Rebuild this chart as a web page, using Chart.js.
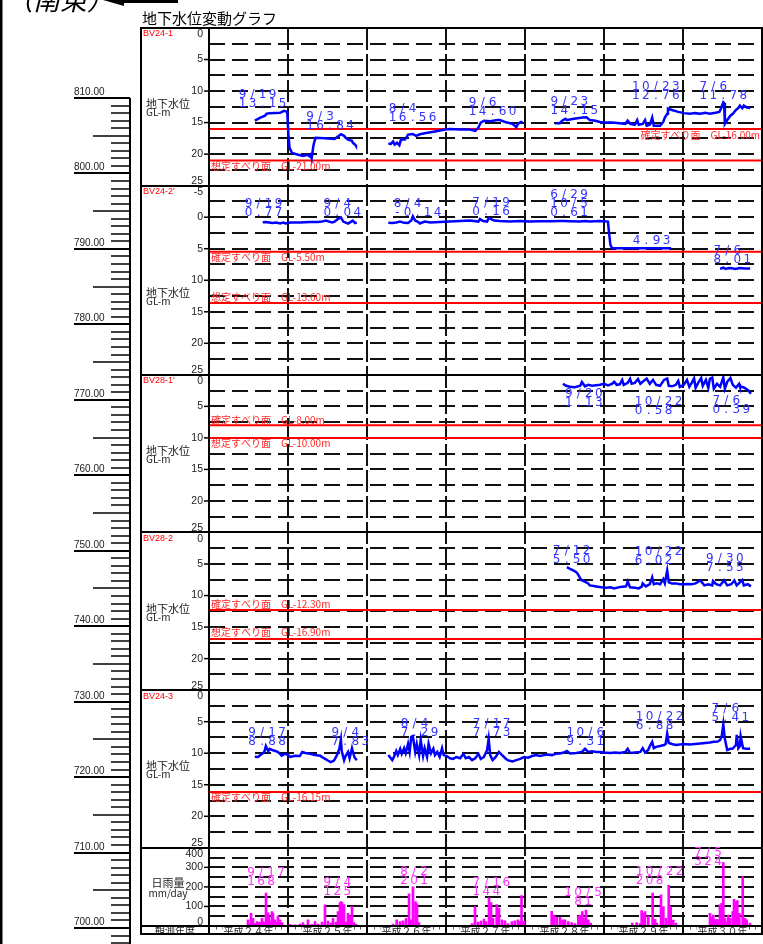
<!DOCTYPE html>
<html lang="ja">
<head>
<meta charset="utf-8">
<title>地下水位変動グラフ</title>
<script src="https://cdn.jsdelivr.net/npm/chart.js@4.4.1/dist/chart.umd.min.js"></script>
<style>
  html, body { margin: 0; padding: 0; background: #fff; }
  #wrap { position: relative; width: 763px; height: 944px; overflow: hidden; }
</style>
</head>
<body>
<div id="wrap"><canvas id="gwChart" width="763" height="944"></canvas></div>
<script>
const JP = '"Noto Sans CJK JP", sans-serif';
const LAT = '"Liberation Sans", Arial, sans-serif';

// ---- data ----
const yearLabels = ['平成24年', '平成25年', '平成26年', '平成27年', '平成28年', '平成29年', '平成30年'];
const firstYear = 2012;
const lastYear = 2019;
const wells = ['BV24-1', "BV24-2'", "BV28-1'", 'BV28-2', 'BV24-3'];
const depthTop = [0, -5, 0, 0, 0];
const depthBottom = [25, 25, 25, 25, 25];
const slipDepth = [[16.00, 21.00], [5.50, 13.60], [8.00, 10.00], [12.30, 16.90], [16.15]];
const slipType = [['確定', '想定'], ['確定', '想定'], ['確定', '想定'], ['確定', '想定'], ['確定']];
const rainMax = 400;
const elevMajor = [810, 800, 790, 780, 770, 760, 750, 740, 730, 720, 710, 700];

// 地下水位 GL-m  [年, 深度] ; 欠測で区切る
const levelBV24_1 = [
  [[2012.58,14.7],[2012.65,14.2],[2012.71,13.9],[2012.73,13.6],[2012.77,13.5],[2012.90,13.45],[2012.95,13.15],[2012.99,13.3],
   [2013.005,16.9],[2013.02,19.0],[2013.05,19.8],[2013.13,20.1],[2013.19,20.3],[2013.25,20.1],[2013.28,20.4],[2013.29,19.8],
   [2013.30,20.6],[2013.32,18.8],[2013.33,18.2],[2013.35,17.4],[2013.47,17.5],[2013.59,17.6],[2013.67,16.84],[2013.71,17.1],
   [2013.73,17.4],[2013.76,17.7],[2013.81,17.9],[2013.82,18.2],[2013.85,18.5],[2013.86,18.7]],
  [[2014.27,18.3],[2014.30,18.4],[2014.33,18.0],[2014.35,18.5],[2014.38,18.2],[2014.41,18.6],[2014.43,17.7],[2014.48,17.7],
   [2014.52,16.9],[2014.58,16.8],[2014.62,17.1],[2014.67,16.85],[2014.73,16.7],[2014.86,16.4],[2014.99,16.1],[2015.05,16.0],
   [2015.18,16.1],[2015.30,16.1],[2015.37,16.3],[2015.41,15.8],[2015.44,15.0],[2015.48,14.7],[2015.56,14.8],[2015.65,14.6],
   [2015.68,14.6],[2015.75,14.9],[2015.84,15.2],[2015.89,15.7],[2015.91,15.2],[2015.95,14.9],[2015.97,15.0]],
  [[2016.38,15.1],[2016.44,15.1],[2016.47,14.7],[2016.51,14.4],[2016.53,14.6],[2016.57,14.5],[2016.62,14.4],[2016.73,14.2],
   [2016.78,14.15],[2016.82,14.6],[2016.89,14.7],[2016.95,14.9],[2017.01,15.0],[2017.10,15.0],[2017.20,15.1],[2017.27,15.2],
   [2017.30,14.7],[2017.33,15.2],[2017.39,15.35],[2017.42,14.6],[2017.44,15.35],[2017.49,15.2],[2017.52,14.6],[2017.54,15.5],
   [2017.58,15.35],[2017.61,14.2],[2017.63,15.5],[2017.71,15.5],[2017.75,14.9],[2017.77,14.2],[2017.80,13.6],[2017.81,12.76],
   [2017.86,13.0],[2017.94,13.3],[2018.01,13.5],[2018.09,13.6],[2018.15,13.5],[2018.22,13.6],[2018.28,13.45],[2018.34,13.6],
   [2018.41,13.45],[2018.46,13.3],[2018.48,12.8],[2018.51,11.78],[2018.52,11.9],[2018.53,15.2],[2018.56,14.6],[2018.60,13.9],
   [2018.63,13.6],[2018.67,13.0],[2018.70,12.7],[2018.72,12.3],[2018.75,12.7],[2018.77,12.3],[2018.81,12.6],[2018.85,12.7]]
];
const levelBV24_2 = [
  [[2012.68,0.8],[2012.72,0.77],[2012.80,0.93],[2012.85,0.85],[2012.90,1.0],[2012.94,0.85],[2012.97,1.0],[2013.03,0.85],
   [2013.15,0.85],[2013.28,0.78],[2013.38,0.78],[2013.43,0.7],[2013.48,0.54],[2013.52,0.7],[2013.56,0.85],[2013.59,0.7],
   [2013.63,0.3],[2013.67,0.04],[2013.70,0.7],[2013.73,0.85],[2013.76,1.0],[2013.80,0.7],[2013.82,0.54],[2013.85,0.93],[2013.87,0.85]],
  [[2014.27,0.9],[2014.32,0.93],[2014.37,0.85],[2014.42,0.7],[2014.47,0.9],[2014.52,0.93],[2014.56,0.54],[2014.58,-0.14],
   [2014.61,0.54],[2014.65,0.78],[2014.67,1.0],[2014.73,0.7],[2014.80,0.85],[2014.92,0.78],[2015.05,0.7],[2015.18,0.62],
   [2015.30,0.54],[2015.41,0.7],[2015.43,0.3],[2015.47,0.62],[2015.52,0.7],[2015.54,0.16],[2015.57,0.3],[2015.61,0.54],
   [2015.68,0.62],[2015.81,0.7],[2015.94,0.62],[2016.06,0.7],[2016.19,0.65],[2016.32,0.65],[2016.44,0.62],[2016.49,0.61],
   [2016.57,0.65],[2016.70,0.7],[2016.76,0.61],[2016.82,0.7],[2016.95,0.62],[2017.05,0.7],[2017.06,2.0],[2017.08,4.3],
   [2017.10,4.93],[2017.85,4.93]],
  [[2018.47,8.18],[2018.51,8.01],[2018.54,8.2],[2018.58,8.05],[2018.62,8.1],[2018.66,8.2],[2018.72,8.05],[2018.78,8.15],[2018.85,8.13]]
];
const levelBV28_1 = [
  [[2016.48,1.42],[2016.52,1.74],[2016.57,1.9],[2016.63,1.98],[2016.70,1.74],[2016.72,1.13],[2016.76,1.82],[2016.80,1.58],
   [2016.85,1.74],[2016.90,1.66],[2016.95,1.58],[2017.00,1.42],[2017.05,1.66],[2017.10,1.42],[2017.13,1.1],[2017.16,1.58],
   [2017.20,1.5],[2017.23,0.8],[2017.25,1.6],[2017.30,1.27],[2017.33,0.63],[2017.35,1.42],[2017.39,1.27],[2017.43,0.65],
   [2017.46,1.42],[2017.49,1.1],[2017.54,0.6],[2017.58,1.42],[2017.62,0.8],[2017.66,1.58],[2017.71,1.74],[2017.76,0.8],
   [2017.80,0.58],[2017.82,1.74],[2017.86,1.82],[2017.91,1.58],[2017.94,0.95],[2017.96,1.9],[2018.01,1.58],[2018.05,0.8],
   [2018.08,1.9],[2018.11,1.27],[2018.14,0.55],[2018.16,2.05],[2018.20,1.1],[2018.23,0.5],[2018.25,1.74],[2018.29,0.8],
   [2018.32,2.05],[2018.34,0.63],[2018.37,0.45],[2018.39,2.2],[2018.43,1.42],[2018.47,1.9],[2018.51,0.39],[2018.53,2.2],
   [2018.56,1.1],[2018.60,0.5],[2018.63,1.58],[2018.67,2.05],[2018.71,1.42],[2018.72,1.82],[2018.77,2.0],[2018.82,2.4],[2018.86,3.0]]
];
const levelBV28_2 = [
  [[2016.53,5.5],[2016.57,5.78],[2016.61,6.0],[2016.65,6.3],[2016.67,6.6],[2016.70,7.3],[2016.72,7.6],[2016.75,7.75],
   [2016.80,8.07],[2016.82,8.4],[2016.87,8.5],[2016.92,8.6],[2016.97,8.7],[2017.03,8.78],[2017.08,8.7],[2017.13,8.86],
   [2017.18,8.7],[2017.23,8.62],[2017.28,8.54],[2017.30,7.75],[2017.33,8.7],[2017.39,8.78],[2017.44,8.86],[2017.48,8.54],
   [2017.49,8.07],[2017.53,8.54],[2017.58,8.2],[2017.61,7.1],[2017.63,8.2],[2017.67,8.07],[2017.71,8.2],[2017.75,7.4],
   [2017.77,8.07],[2017.80,6.02],[2017.82,7.9],[2017.86,8.07],[2017.91,8.07],[2017.96,8.2],[2018.01,8.2],[2018.06,8.15],
   [2018.11,8.2],[2018.16,8.07],[2018.22,7.6],[2018.27,8.38],[2018.32,8.2],[2018.37,8.38],[2018.38,7.7],[2018.42,8.2],
   [2018.47,8.38],[2018.52,7.6],[2018.56,8.38],[2018.61,8.2],[2018.65,7.6],[2018.68,8.38],[2018.75,7.55],[2018.77,8.38],
   [2018.82,8.2],[2018.86,8.54]]
];
const levelBV24_3 = [
  [[2012.58,10.55],[2012.62,10.6],[2012.66,10.2],[2012.70,9.8],[2012.72,8.88],[2012.75,9.65],[2012.77,9.3],[2012.80,9.5],
   [2012.84,9.65],[2012.87,9.8],[2012.90,10.1],[2012.92,10.4],[2012.96,10.1],[2012.99,10.2],[2013.03,10.6],[2013.09,10.4],
   [2013.15,10.45],[2013.18,9.8],[2013.22,9.97],[2013.28,10.1],[2013.34,10.3],[2013.41,10.4],[2013.43,10.6],[2013.47,10.9],
   [2013.51,11.2],[2013.54,11.4],[2013.58,11.2],[2013.62,10.3],[2013.65,9.3],[2013.67,7.83],[2013.68,9.65],[2013.71,11.1],
   [2013.73,10.4],[2013.76,9.8],[2013.78,10.8],[2013.81,9.2],[2013.84,10.6],[2013.87,11.1]],
  [[2014.27,10.3],[2014.29,10.6],[2014.32,11.1],[2014.34,10.6],[2014.37,9.65],[2014.39,10.3],[2014.42,9.3],[2014.44,10.1],
   [2014.47,9.2],[2014.49,10.0],[2014.52,8.5],[2014.54,9.8],[2014.56,7.4],[2014.58,7.29],[2014.61,9.8],[2014.63,8.5],
   [2014.66,10.3],[2014.68,7.9],[2014.71,10.45],[2014.73,9.2],[2014.76,10.6],[2014.78,8.5],[2014.81,10.0],[2014.84,9.3],
   [2014.86,10.3],[2014.89,9.8],[2014.92,10.6],[2014.95,9.2],[2014.97,10.3],[2015.01,10.45],[2015.05,10.8],[2015.09,10.9],
   [2015.13,10.6],[2015.18,10.8],[2015.22,10.1],[2015.25,10.8],[2015.29,10.6],[2015.33,11.1],[2015.37,10.8],[2015.41,10.1],
   [2015.44,10.9],[2015.48,10.6],[2015.52,9.5],[2015.54,7.73],[2015.56,10.3],[2015.59,11.1],[2015.63,10.6],[2015.67,9.8],
   [2015.71,10.3],[2015.75,10.8],[2015.78,11.1],[2015.84,11.3],[2015.89,11.1],[2015.94,10.9],[2015.99,10.6],[2016.04,10.7],
   [2016.09,10.45],[2016.14,10.3],[2016.19,10.45],[2016.24,10.3],[2016.29,10.2],[2016.34,10.3],[2016.39,10.1],[2016.44,10.05],
   [2016.49,9.9],[2016.53,9.65],[2016.57,10.05],[2016.65,9.97],[2016.72,9.8],[2016.76,9.31],[2016.80,9.8],[2016.85,9.7],
   [2016.90,9.8],[2016.95,9.8],[2017.01,9.9],[2017.08,9.97],[2017.14,9.9],[2017.20,9.97],[2017.27,9.8],[2017.30,9.3],
   [2017.33,9.97],[2017.39,9.9],[2017.46,9.8],[2017.49,9.2],[2017.52,9.9],[2017.56,9.5],[2017.58,8.86],[2017.61,8.2],
   [2017.63,9.2],[2017.66,9.0],[2017.71,8.86],[2017.76,8.7],[2017.78,8.54],[2017.80,6.88],[2017.82,8.38],[2017.86,8.54],
   [2017.91,8.7],[2017.96,8.62],[2018.01,8.54],[2018.09,8.62],[2018.15,8.54],[2018.22,8.46],[2018.28,8.38],[2018.34,8.3],
   [2018.39,8.2],[2018.44,8.15],[2018.47,7.9],[2018.49,7.3],[2018.51,5.41],[2018.53,7.75],[2018.56,9.5],[2018.60,9.3],
   [2018.63,9.25],[2018.67,8.7],[2018.68,7.1],[2018.70,9.2],[2018.72,8.86],[2018.73,7.3],[2018.76,9.2],[2018.80,9.3],[2018.85,9.28]]
];

// 日雨量 mm/day  [年, 雨量]
const rainfall = [
  [2012.494,31],[2012.506,10],[2012.532,65],[2012.557,39],[2012.582,12],[2012.608,22],[2012.633,15],[2012.646,20],
  [2012.671,39],[2012.684,22],[2012.709,18],[2012.722,168],[2012.747,68],[2012.759,44],[2012.785,25],[2012.797,74],
  [2012.810,65],[2012.835,31],[2012.861,20],[2012.873,51],[2012.899,31],[2012.924,17],
  [2013.025,8],[2013.089,6],[2013.152,10],[2013.190,17],[2013.228,5],[2013.253,31],[2013.304,8],[2013.342,22],
  [2013.380,10],[2013.430,20],[2013.468,108],[2013.506,25],[2013.544,15],[2013.570,39],[2013.608,20],[2013.633,74],
  [2013.658,118],[2013.671,125],[2013.684,120],[2013.709,110],[2013.734,20],[2013.759,65],[2013.785,51],[2013.810,99],
  [2013.835,17],[2013.861,8],
  [2014.329,10],[2014.376,31],[2014.418,22],[2014.456,27],[2014.494,39],[2014.532,164],[2014.557,31],[2014.582,201],
  [2014.614,125],[2014.633,113],[2014.658,17],
  [2015.329,12],[2015.367,99],[2015.405,20],[2015.443,25],[2015.481,35],[2015.506,22],[2015.544,144],[2015.570,120],
  [2015.595,39],[2015.642,110],[2015.671,92],[2015.709,31],[2015.747,27],[2015.785,12],[2015.835,22],[2015.873,27],
  [2015.911,31],[2015.937,22],[2015.956,155],[2015.987,25],
  [2016.338,75],[2016.367,56],[2016.401,44],[2016.443,44],[2016.477,31],[2016.506,31],[2016.548,22],[2016.591,17],
  [2016.633,12],[2016.675,50],[2016.696,56],[2016.725,74],[2016.747,40],[2016.772,81],[2016.801,31],[2016.832,15],
  [2017.358,15],[2017.414,18],[2017.456,12],[2017.477,79],[2017.497,65],[2017.519,74],[2017.561,51],[2017.616,168],
  [2017.646,34],[2017.667,15],[2017.722,159],[2017.751,99],[2017.785,39],[2017.819,208],[2017.844,99],[2017.877,30],[2017.911,15],
  [2018.342,65],[2018.363,45],[2018.384,56],[2018.405,31],[2018.427,34],[2018.447,31],[2018.468,108],[2018.490,116],
  [2018.510,324],[2018.532,39],[2018.553,20],[2018.573,56],[2018.595,39],[2018.629,74],[2018.646,137],[2018.671,125],
  [2018.687,130],[2018.713,65],[2018.756,253],[2018.785,39],[2018.806,31],[2018.848,15]
];

// 年最高水位・最大日雨量の注記  [年, 月/日, 値]
const peaksBV24_1 = [[2012,'9/19',13.15],[2013,'9/3',16.84],[2014,'8/4',16.56],[2015,'9/6',14.60],[2016,'9/23',14.15],[2017,'10/23',12.76],[2018,'7/6',11.78]];
const peaksBV24_2 = [[2012,'9/19',0.77],[2013,'9/4',0.04],[2014,'8/4',-0.14],[2015,'7/19',0.16],[2016,'6/29,10/5',0.61],[2017,'',4.93],[2018,'7/6',8.01]];
const peaksBV28_1 = [[2016,'9/20',1.13],[2017,'10/22',0.58],[2018,'7/6',0.39]];
const peaksBV28_2 = [[2016,'7/12',5.50],[2017,'10/22',6.02],[2018,'9/30',7.55]];
const peaksBV24_3 = [[2012,'9/17',8.88],[2013,'9/4',7.83],[2014,'8/4',7.29],[2015,'7/17',7.73],[2016,'10/6',9.31],[2017,'10/22',6.88],[2018,'7/6',5.41]];
const peaksRain = [[2012,'9/17',168],[2013,'9/4',125],[2014,'8/2',201],[2015,'7/16',144],[2016,'10/5',81],[2017,'10/22',208],[2018,'7/5',324]];

// ---- layout of the notes (pixel offsets from the marked point) ----
const peakOffsets = [
  [[-28,-7],[-36,-8],[-26,-15],[-32,-8],[-33,-6],[-37,-13],[-25,-6]],
  [[-22,-9],[-19,-5],[-21,-3],[-18,-6],[-36,-8],[-12,-7],[-11,-8]],
  [[-18,21],[-34,32],[-12,33]],
  [[-15,-7],[-34,-10],[-37,-12]],
  [[-18,-4],[-11,2],[-14,-3],[-17,-6],[-20,-7],[-33,-8],[-13,-6]]
];
const rainOffsets = [[-19,-11],[-19,-10],[-14,-6],[-17,-6],[-22,-8],[-33,-4],[-30,-1]];
const slipSide = [['right','left'],['left','left'],['left','left'],['left','left'],['left']];
const slipDy = [[6,5.5],[5.5,-5.5],[-5.5,5],[-5.5,-6.5],[5.5]];

const levels = [levelBV24_1, levelBV24_2, levelBV28_1, levelBV28_2, levelBV24_3];
const peaks = [peaksBV24_1, peaksBV24_2, peaksBV28_1, peaksBV28_2, peaksBV24_3];

function zen(s) {
  return s.replace(/[0-9]/g, ch => String.fromCharCode(ch.charCodeAt(0) + 0xFEE0));
}

function dateToYear(year, md) {
  const parts = md.split('/').map(Number);
  const start = Date.UTC(year, 0, 1);
  return year + (Date.UTC(year, parts[0] - 1, parts[1]) - start) / (Date.UTC(year + 1, 0, 1) - start);
}

function toPoints(segments) {
  const pts = [];
  segments.forEach((seg, k) => {
    if (k > 0) pts.push({ x: seg[0][0], y: null });
    seg.forEach(p => pts.push({ x: p[0], y: p[1] }));
  });
  return pts;
}

function depthAxis(i) {
  return {
    type: 'linear', position: 'left', stack: 'panels', stackWeight: depthBottom[i] - depthTop[i],
    reverse: true, min: depthTop[i], max: depthBottom[i],
    ticks: { display: false, stepSize: 2.5, maxTicksLimit: 20 },
    grid: { color: '#111', lineWidth: 2, drawTicks: false },
    border: { display: false, dash: [16, 7] }
  };
}

const datasets = [];
levels.forEach((segs, i) => {
  datasets.push({
    type: 'line', data: toPoints(segs), yAxisID: 'p' + i,
    borderColor: '#0000ff', borderWidth: 2.5, pointRadius: 0, tension: 0, spanGaps: false
  });
});
slipDepth.forEach((list, i) => {
  list.forEach(d => {
    datasets.push({
      type: 'line', data: [{ x: firstYear, y: d }, { x: lastYear, y: d }], yAxisID: 'p' + i,
      borderColor: '#ff0000', borderWidth: 2, pointRadius: 0
    });
  });
});
datasets.push({
  type: 'bar', data: rainfall.map(r => ({ x: r[0], y: r[1] })), yAxisID: 'rain',
  backgroundColor: '#ff00ff', borderWidth: 0, barThickness: 2
});

function drawAxisLabels(c, scale, every, left) {
  c.font = '10.5px ' + LAT;
  c.fillStyle = '#222';
  c.textAlign = 'right';
  c.strokeStyle = '#000';
  c.lineWidth = 1.5;
  scale.ticks.forEach(t => {
    const v = t.value;
    if (Math.abs(v / every - Math.round(v / every)) > 1e-6) return;
    const y = scale.getPixelForValue(v);
    if (Math.abs(y - scale.top) < 1) {
      c.textBaseline = 'top';
      c.fillText(String(v), left - 6, scale.top + 1);
    } else if (Math.abs(y - scale.bottom) < 1) {
      c.textBaseline = 'bottom';
      c.fillText(String(v), left - 6, scale.bottom + 1);
    } else {
      c.textBaseline = 'middle';
      c.fillText(String(v), left - 6, y);
      c.beginPath(); c.moveTo(left - 5, y); c.lineTo(left, y); c.stroke();
    }
  });
}

// monospaced note text: one 10px cell per character
function drawCells(c, text, x, y) {
  for (let i = 0; i < text.length; i++) {
    c.fillText(text[i], x + i * 10 + 5, y);
  }
}

function drawPeaks(c, chart, axisId, list, offsets, color, fmt) {
  const xs = chart.scales.x, ys = chart.scales[axisId];
  c.font = '12px "DejaVu Sans", sans-serif';
  c.fillStyle = color;
  c.textAlign = 'center';
  c.textBaseline = 'middle';
  list.forEach((p, k) => {
    const dates = p[1] ? p[1].split(',') : [];
    const at = dates.length ? dateToYear(p[0], dates[dates.length - 1]) : p[0] + 0.5;
    const x = xs.getPixelForValue(at) + offsets[k][0];
    const yLast = ys.getPixelForValue(p[2]) + offsets[k][1];
    const lines = dates.concat([fmt(p[2])]);
    lines.forEach((ln, j) => drawCells(c, ln, x, yLast - (lines.length - 1 - j) * 9));
  });
}

function line(c, x1, y1, x2, y2) {
  c.beginPath(); c.moveTo(x1, y1); c.lineTo(x2, y2); c.stroke();
}

const sheetPlugin = {
  id: 'sheet',
  beforeDraw(chart) {
    const c = chart.ctx;
    c.save();
    c.fillStyle = '#fff';
    c.fillRect(0, 0, chart.width, chart.height);
    c.restore();
  },
  afterDraw(chart) {
    const c = chart.ctx, area = chart.chartArea, xs = chart.scales.x;
    const colL = area.left - 68;
    const rowB = area.bottom + 8;
    c.save();

    // bottom row: 観測年度
    c.save();
    c.beginPath(); c.rect(colL, area.bottom + 1, area.right - colL, rowB - area.bottom - 2); c.clip();
    c.font = '10px ' + JP; c.textAlign = 'center'; c.textBaseline = 'middle';
    c.fillStyle = '#222';
    c.fillText('観測年度', (colL + area.left) / 2, area.bottom + 5);
    c.strokeStyle = '#555'; c.lineWidth = 1;
    for (let m = 1; m < (lastYear - firstYear) * 12; m++) {
      if (m % 12 === 0) continue;
      const x = Math.round(xs.getPixelForValue(firstYear + m / 12)) + 0.5;
      line(c, x, area.bottom + 1, x, area.bottom + 3.5);
    }
    yearLabels.forEach((lab, k) => {
      const cx = xs.getPixelForValue(firstYear + k + 0.5);
      const txt = zen(lab);
      const w = c.measureText(txt).width;
      c.fillStyle = '#fff'; c.fillRect(cx - w / 2 - 1, area.bottom + 1, w + 2, 8);
      c.fillStyle = '#222'; c.fillText(txt, cx, area.bottom + 5);
    });
    c.restore();

    // frame and panel borders
    c.strokeStyle = '#000'; c.lineWidth = 2;
    c.strokeRect(colL, area.top, area.right - colL, rowB - area.top);
    line(c, area.left, area.top, area.left, rowB);
    ['p0', 'p1', 'p2', 'p3', 'p4', 'rain'].forEach(id => {
      const y = Math.round(chart.scales[id].bottom);
      line(c, colL, y, area.right, y);
    });
    for (let k = 1; k < lastYear - firstYear; k++) {
      const x = Math.round(xs.getPixelForValue(firstYear + k));
      line(c, x, area.bottom, x, rowB);
    }

    // axis labels and left column
    wells.forEach((name, i) => {
      const s = chart.scales['p' + i];
      drawAxisLabels(c, s, 5, area.left);
      c.font = '9px ' + LAT; c.fillStyle = '#ff0000'; c.textAlign = 'left'; c.textBaseline = 'middle';
      c.fillText(name, colL + 2, s.top + 6);
      const ym = s.getPixelForValue(12.5);
      c.fillStyle = '#222';
      c.font = '11px ' + JP;
      c.fillText('地下水位', colL + 5, ym - 3);
      c.font = '10px ' + JP;
      c.fillText('GL-m', colL + 5, ym + 5.5);
    });
    const rs = chart.scales.rain;
    drawAxisLabels(c, rs, 100, area.left);
    c.fillStyle = '#222'; c.textAlign = 'center'; c.textBaseline = 'middle';
    c.font = '11px ' + JP;
    c.fillText('日雨量', colL + 27, rs.getPixelForValue(200) - 4);
    c.font = '10px ' + JP;
    c.fillText('mm/day', colL + 27, rs.getPixelForValue(200) + 6);

    // slip surface notes
    c.font = '10px ' + JP; c.fillStyle = '#ff2a2a'; c.textBaseline = 'middle';
    slipDepth.forEach((list, i) => {
      const s = chart.scales['p' + i];
      list.forEach((d, k) => {
        const txt = slipType[i][k] + 'すべり面　GL-' + d.toFixed(2) + 'm';
        const right = slipSide[i][k] === 'right';
        c.textAlign = right ? 'right' : 'left';
        c.fillText(txt, right ? area.right - 2 : area.left + 2, s.getPixelForValue(d) + slipDy[i][k]);
      });
    });

    // peak notes
    peaks.forEach((list, i) => drawPeaks(c, chart, 'p' + i, list, peakOffsets[i], '#3333ff', v => v.toFixed(2)));
    drawPeaks(c, chart, 'rain', peaksRain, rainOffsets, '#ff33ff', v => String(v).padStart(3, ' '));

    // elevation ruler
    const es = chart.scales.elev;
    const rx = colL - 11;
    c.strokeStyle = '#000'; c.fillStyle = '#222';
    c.font = '10px ' + LAT; c.textAlign = 'left'; c.textBaseline = 'alphabetic';
    const topElev = elevMajor[0];
    for (let v = topElev; ; v--) {
      const y = Math.round(es.getPixelForValue(v));
      if (y > chart.height) break;
      if (elevMajor.includes(v)) {
        c.lineWidth = 2; line(c, rx - 56, y, rx, y);
        c.fillText(v.toFixed(2), rx - 56, y - 3);
      } else if (v % 5 === 0) {
        c.lineWidth = 1.5; line(c, rx - 37, y, rx, y);
      } else {
        c.lineWidth = 1.5; line(c, rx - 19, y, rx, y);
      }
    }
    c.lineWidth = 2;
    line(c, rx, Math.round(es.getPixelForValue(topElev)), rx, chart.height);

    // title, direction note, page border
    c.fillStyle = '#000';
    c.font = '15px ' + JP; c.textAlign = 'left'; c.textBaseline = 'middle';
    c.fillText('地下水位変動グラフ', colL + 1, 18);
    c.font = 'italic 27px ' + JP; c.textBaseline = 'alphabetic';
    c.fillText('（南東）', 6, 10);
    c.beginPath();
    c.moveTo(96, -2); c.lineTo(124, -10); c.lineTo(124, -4); c.lineTo(178, -4);
    c.lineTo(178, 3); c.lineTo(124, 3); c.lineTo(124, 6); c.closePath(); c.fill();
    c.fillRect(0, 0, 2.5, chart.height);

    c.restore();
  }
};

const scales = {
  rain: {
    type: 'linear', position: 'left', stack: 'panels', stackWeight: 12.4, min: 0, max: rainMax,
    ticks: { display: false, stepSize: 50, maxTicksLimit: 20 },
    grid: { color: '#111', lineWidth: 2, drawTicks: false },
    border: { display: false, dash: [16, 7] }
  },
  p4: depthAxis(4),
  p3: depthAxis(3),
  p2: depthAxis(2),
  p1: depthAxis(1),
  p0: depthAxis(0),
  elev: { type: 'linear', position: 'left', display: false, min: 700.27, max: 819.28 },
  x: {
    type: 'linear', position: 'bottom', min: firstYear, max: lastYear, offset: false,
    ticks: { display: false, stepSize: 1 },
    grid: { color: '#111', lineWidth: 2, drawTicks: false, offset: false },
    border: { display: false, dash: [22, 4] }
  }
};

const ctx = document.getElementById('gwChart').getContext('2d');
const gwChart = new Chart(ctx, {
  type: 'line',
  data: { datasets: datasets },
  options: {
    responsive: false,
    animation: false,
    devicePixelRatio: 1,
    events: [],
    layout: { padding: { left: 209, top: 28, right: 1, bottom: 18 } },
    plugins: { legend: { display: false }, tooltip: { enabled: false } },
    scales: scales
  },
  plugins: [sheetPlugin]
});
</script>
</body>
</html>
